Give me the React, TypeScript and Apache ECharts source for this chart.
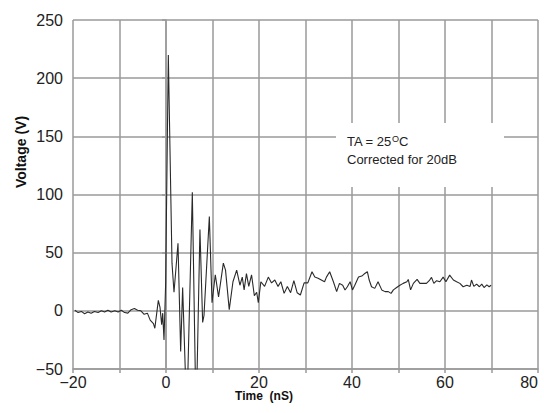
import React, { useEffect, useRef } from "react";
import * as echarts from "echarts";

const timeNs = [
  -19.6, -18.9, -18.2, -17.5, -16.8, -16.1, -15.4, -14.6, -13.9, -13.2, -12.5, -11.8, -11.0, -10.3,
  -9.6, -8.9, -8.2, -7.5, -6.8, -6.1, -5.4, -4.7, -4.0, -3.4, -2.7, -2.4, -1.65, -1.29, -0.93, -0.71,
  -0.43, -0.08, 0.5, 0.86, 1.29, 1.72, 2.58, 3.15, 3.58, 4.3, 4.6, 5.66, 6.37, 6.6, 7.3, 7.88, 8.17,
  9.32, 9.9, 10.6, 11.3, 12.33, 12.8, 13.6, 14.4, 15.2, 15.9, 16.4, 16.8, 17.3, 17.8, 18.4, 19.0,
  19.5, 19.85, 20.4, 21.2, 22.0, 22.7, 23.4, 24.1, 24.7, 25.4, 26.1, 26.8, 27.5, 28.2, 28.9, 29.7,
  30.5, 31.4, 32.0, 32.7, 33.4, 34.1, 34.5, 35.2, 36.0, 36.7, 37.3, 38.0, 38.5, 39.0, 39.6, 40.1,
  40.6, 41.4, 42.1, 42.6, 43.3, 43.7, 44.2, 44.9, 45.6, 46.4, 47.1, 47.8, 48.4, 48.9, 49.6, 50.3,
  51.0, 51.8, 52.1, 52.6, 53.2, 54.0, 54.6, 55.3, 56.0, 56.6, 57.1, 57.6, 58.2, 58.9, 59.6, 60.2,
  61.0, 61.8, 62.5, 63.2, 63.9, 64.7, 65.4, 65.7, 66.2, 66.8, 67.4, 67.9, 68.4, 69.0, 69.5, 69.9,
];

const voltage = [
  0.5, -1.5, -0.5, -2.5, -1, -2, -0.5, -1.5, 0, -1, 0.5, -1, 0, -1,
  0.5, -1.5, -2, 1, 2, 0.5, 0, -3, -2, -8, -11, -15, 9, 3, -12, -2,
  -25, 23, 220, 138, 41, 16, 58, -35, 20, -70, -70, 102, -70, -70, 70, -10, -4,
  81, 7, 31, 12, 41, 35, 1, 25, 35, 22, 29, 18, 32, 21, 31, 13,
  16, 7, 25, 21, 29, 24, 26.5, 21, 25, 15, 21, 15.6, 26, 15.6, 13.6, 24,
  24, 33.6, 29, 28, 26.5, 25, 29, 33.6, 25, 16.5, 23.6, 22, 17.9, 20.7, 25, 18,
  22, 29, 29.9, 31.6, 33.6, 26.5, 20.7, 19.3, 25, 18, 16.5, 16.5, 15, 18, 20, 22,
  23.6, 25, 27, 18, 23.6, 27, 23.6, 23.6, 23.6, 25.9, 28.8, 23.6, 25.9, 25, 29, 25,
  30.7, 26.5, 25, 23.6, 20.7, 22, 21, 26.5, 21, 23, 20.7, 23, 20, 22.3, 20.7, 22,
];

const xMin = -20;
const xMax = 80;
const yMin = -50;
const yMax = 250;

const fmt = (v: number) => String(v).replace("-", "\u2212");

export default function App() {
  const ref = useRef<HTMLDivElement>(null);
  useEffect(() => {
    document.body.style.margin = "0";
    if (!ref.current) return;
    const chart = echarts.init(ref.current, null, { renderer: "svg" });
    const labelFont = "'Liberation Sans Narrow', 'Liberation Sans', sans-serif";
    const gridColor = "#9a9a9a";
    chart.setOption({
      animation: false,
      grid: { left: 73, right: 6, top: 20, bottom: 44 },
      xAxis: {
        type: "value",
        min: xMin,
        max: xMax,
        interval: 10,
        axisLine: { show: true, onZero: false, lineStyle: { color: gridColor, width: 1.5 } },
        axisTick: { show: true, length: 4, lineStyle: { color: gridColor, width: 1.5 } },
        splitLine: { show: true, lineStyle: { color: gridColor, width: 1.5 } },
        axisLabel: {
          margin: 5,
          fontFamily: labelFont,
          fontSize: 16,
          color: "#222",
          alignMaxLabel: "right",
          formatter: (v: number) => (v % 20 === 0 ? fmt(v) : ""),
        },
      },
      yAxis: {
        type: "value",
        min: yMin,
        max: yMax,
        interval: 50,
        axisLine: { show: true, lineStyle: { color: gridColor, width: 1.5 } },
        axisTick: { show: true, length: 4, lineStyle: { color: gridColor, width: 1.5 } },
        splitLine: { show: true, lineStyle: { color: gridColor, width: 1.5 } },
        axisLabel: {
          margin: 10,
          fontFamily: labelFont,
          fontSize: 16,
          color: "#222",
          formatter: (v: number) => fmt(v),
        },
      },
      series: [
        {
          type: "line",
          data: timeNs.map((t, i) => [t, voltage[i]]),
          showSymbol: false,
          symbol: "none",
          clip: true,
          lineStyle: { color: "#2a2a2a", width: 1.1 },
        },
      ],
      graphic: [
        {
          type: "rect",
          shape: { x: 336, y: 123, width: 168, height: 64 },
          style: { fill: "#ffffff" },
          z: 100,
        },
        {
          type: "text",
          x: 347,
          y: 141,
          z: 101,
          style: {
            text: "{a|TA = 25}{s|O}{a|C}",
            textVerticalAlign: "middle",
            rich: {
              a: { fontFamily: "'Liberation Sans', Arial, sans-serif", fontSize: 13, fill: "#222" },
              s: {
                fontFamily: "'Liberation Sans', Arial, sans-serif",
                fontSize: 9,
                fill: "#222",
                verticalAlign: "top",
              },
            },
          },
        },
        {
          type: "text",
          x: 347,
          y: 159,
          z: 101,
          style: {
            text: "Corrected for 20dB",
            fontFamily: "'Liberation Sans', Arial, sans-serif",
            fontSize: 13,
            fill: "#222",
            textVerticalAlign: "middle",
          },
        },
        {
          type: "text",
          x: 264,
          y: 396,
          style: {
            text: "Time  (nS)",
            fontFamily: "'Liberation Sans', Arial, sans-serif",
            fontWeight: "bold",
            fontSize: 12,
            fill: "#111",
            textAlign: "center",
            textVerticalAlign: "middle",
          },
        },
        {
          type: "text",
          x: 21,
          y: 152,
          rotation: Math.PI / 2,
          style: {
            text: "Voltage (V)",
            fontFamily: "'Liberation Sans', Arial, sans-serif",
            fontWeight: "bold",
            fontSize: 14,
            fill: "#111",
            textAlign: "center",
            textVerticalAlign: "middle",
          },
        },
      ],
    });
    return () => chart.dispose();
  }, []);
  return <div ref={ref} style={{ width: 544, height: 413 }} />;
}
